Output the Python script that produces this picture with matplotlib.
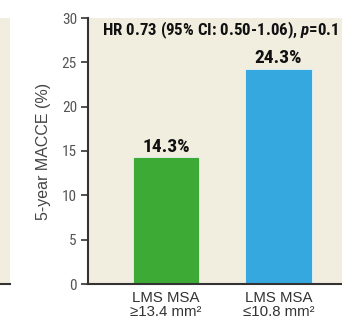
import numpy as np
import matplotlib.pyplot as plt

# data
groups = ["LMS MSA\n≥13.4 mm²", "LMS MSA\n≤10.8 mm²"]
macce = [14.3, 24.3]
bar_colors = ["#3DAA35", "#36A8E0"]
yticks = [0, 5, 10, 15, 20, 25, 30]
title_txt = "HR 0.73 (95% CI: 0.50-1.06), $p$=0.1"

narrow = ["Roboto Condensed", "Liberation Sans Narrow", "Roboto", "DejaVu Sans"]
plain = ["Liberation Sans", "DejaVu Sans"]
plt.rcParams["mathtext.fontset"] = "custom"
plt.rcParams["mathtext.it"] = "Roboto Condensed:italic:bold"
beige = "#F2EEDF"

fig = plt.figure(figsize=(3.42, 3.22), dpi=100)
W, H = 342, 322

# sliver of neighbouring panel on the left
ax0 = fig.add_axes([-0.2, (H - 284) / H, 10 / W + 0.2, (284 - 18) / H])
ax0.set_facecolor(beige)
for s in ["top", "right", "left"]:
    ax0.spines[s].set_visible(False)
ax0.spines["bottom"].set_color("#333333")
ax0.spines["bottom"].set_linewidth(1.5)
ax0.set_xticks([])
ax0.set_yticks([])

# main panel
ax = fig.add_axes([88 / W, (H - 284) / H, (W - 88) / W, (284 - 18) / H])
ax.set_facecolor(beige)
x = np.arange(len(macce))
ax.bar(x, macce, width=0.587, color=bar_colors, edgecolor="#E8F2F5", linewidth=0.6)
ax.set_xlim(-0.693, 1.564)
ax.set_ylim(0, 30)
ax.set_yticks(yticks)
ax.set_yticklabels([str(t) for t in yticks], family=narrow, fontsize=11, color="#555555")
ax.set_xticks(x)
ax.set_xticklabels(groups, family=plain, fontsize=10.8, color="#333333", linespacing=1.0)
ax.tick_params(axis="x", length=0, pad=5)
ax.tick_params(axis="y", length=5, width=1.2, color="#333333", pad=3)
for s in ["top", "right"]:
    ax.spines[s].set_visible(False)
for s in ["left", "bottom"]:
    ax.spines[s].set_color("#333333")
    ax.spines[s].set_linewidth(1.5)

ax.set_ylabel("5-year MACCE (%)", family=plain, fontsize=11.5, color="#444444", labelpad=8)

for xi, v in zip(x, macce):
    ax.text(xi, v + 0.6, f"{v}%", ha="center", va="baseline",
            family=narrow, fontweight="bold", fontsize=14, color="#111111")

ax.text(102 / W, (H - 30) / H, title_txt, transform=fig.transFigure,
        ha="left", va="center", family=narrow, fontweight="bold",
        fontsize=12.2, color="#111111")

fig.savefig("out.png", dpi=100)
